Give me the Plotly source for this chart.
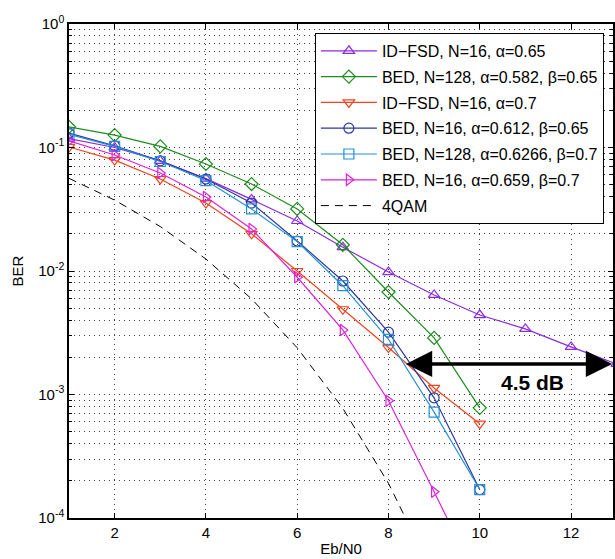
import math
import plotly.graph_objects as go

# Eb/N0 grid (dB)
ebn0 = [1, 2, 3, 4, 5, 6, 7, 8, 9, 10, 11, 12, 13]

# BER curves
ber_idfsd_065 = [0.118, 0.100, 0.078, 0.056, 0.038, 0.0254, 0.0156, 0.0098, 0.0064, 0.0044, 0.0034, 0.00243, 0.00177]
ber_bed128_0582 = [0.147, 0.126, 0.102, 0.0735, 0.0506, 0.0318, 0.0163, 0.00676, 0.00287, 0.00078]
ber_idfsd_07 = [0.101, 0.079, 0.0556, 0.0355, 0.0200, 0.0100, 0.0049, 0.0024, 0.00113, 0.00058]
ber_bed16_0612 = [0.131, 0.103, 0.078, 0.0556, 0.0355, 0.0175, 0.0083, 0.0032, 0.00094, 0.00017]
ber_bed128_06266 = [0.128, 0.102, 0.077, 0.054, 0.0318, 0.0173, 0.0076, 0.0028, 0.00072, 0.00017]
ber_bed16_0659 = [0.113, 0.087, 0.0622, 0.0397, 0.0219, 0.0089, 0.00333, 0.00089, 0.000163, 0.000029]
ber_4qam = [0.0563, 0.0375, 0.0229, 0.0125, 0.00595, 0.00239, 0.000773, 0.000191, 0.0000336]

series = [
    ("ID−FSD, N=16, α=0.65", ber_idfsd_065, "#8a2be2", "triangle-up-open"),
    ("BED, N=128, α=0.582, β=0.65", ber_bed128_0582, "#1f8c1f", "diamond-open"),
    ("ID−FSD, N=16, α=0.7", ber_idfsd_07, "#ee4420", "triangle-down-open"),
    ("BED, N=16, α=0.612, β=0.65", ber_bed16_0612, "#2d3a9c", "circle-open"),
    ("BED, N=128, α=0.6266, β=0.7", ber_bed128_06266, "#2590d8", "square-open"),
    ("BED, N=16, α=0.659, β=0.7", ber_bed16_0659, "#dd22dd", "triangle-right-open"),
]

# gain arrow between the two curves at the same BER
gain_ber = 0.00177
gain_from = 8.35
gain_to = 12.9
gain_label = "4.5 dB"

FONT = "Liberation Sans, Arial, Helvetica, sans-serif"

fig = go.Figure()
for i, (name, ys, color, sym) in enumerate(series):
    fig.add_trace(go.Scatter(
        x=ebn0[:len(ys)], y=ys, name=name, mode="lines+markers",
        line=dict(color=color, width=1.2),
        marker=dict(symbol=sym, size=10, color=color, line=dict(width=1.2, color=color)),
        legendgroup=f"g{i}",
    ))
fig.add_trace(go.Scatter(
    x=ebn0[:len(ber_4qam)], y=ber_4qam, name="4QAM", mode="lines",
    line=dict(color="black", width=1, dash="8px,6px"), legendgroup="g6",
))

fig.add_annotation(
    x=gain_to, y=math.log10(gain_ber), ax=gain_from, ay=math.log10(gain_ber),
    xref="x", yref="y", axref="x", ayref="y", text="", showarrow=True,
    arrowhead=2, arrowside="end+start", arrowsize=1.5, arrowwidth=3.5, arrowcolor="black",
)
fig.add_annotation(
    x=11.15, y=math.log10(0.00126), xref="x", yref="y", text=gain_label, showarrow=False,
    font=dict(family=FONT, size=21, color="black", weight="bold"),
)

decades = [-4, -3, -2, -1, 0]
ytickvals = [10 ** d for d in decades]
yticktext = [f"10<sup>{d}</sup>" for d in decades]
yminor = [m * 10 ** d for d in decades[:-1] for m in range(2, 10)]

grid = dict(showgrid=True, gridcolor="#444444", griddash="1px,4px", gridwidth=1)
fig.update_layout(
    width=615, height=559,
    margin=dict(l=69, r=0, t=24, b=41),
    paper_bgcolor="white", plot_bgcolor="white",
    font=dict(family=FONT, size=15, color="black"),
    showlegend=True,
    legend=dict(
        x=0.452, y=0.982, xanchor="left", yanchor="top",
        bgcolor="white", bordercolor="black", borderwidth=1,
        font=dict(size=16), traceorder="grouped", tracegroupgap=2,
        itemwidth=56,
    ),
    xaxis=dict(
        type="linear", range=[1, 12.92], tickvals=[2, 4, 6, 8, 10, 12],
        ticks="inside", ticklen=5, tickcolor="black",
        showline=True, linecolor="black", linewidth=1.5, mirror="ticks",
        zeroline=False, title=dict(text="Eb/N0", standoff=4, font=dict(size=15)),
        **grid,
    ),
    yaxis=dict(
        type="log", range=[-4, 0], tickvals=ytickvals, ticktext=yticktext,
        ticks="inside", ticklen=5, tickcolor="black",
        showline=True, linecolor="black", linewidth=1.5, mirror="ticks",
        zeroline=False, title=dict(text="BER", standoff=11, font=dict(size=15)),
        minor=dict(tickvals=yminor, ticks="inside", ticklen=3, tickcolor="black",
                   showgrid=True, gridcolor="#444444", griddash="1px,4px", gridwidth=1),
        **grid,
    ),
)

fig.write_html("out.html")
